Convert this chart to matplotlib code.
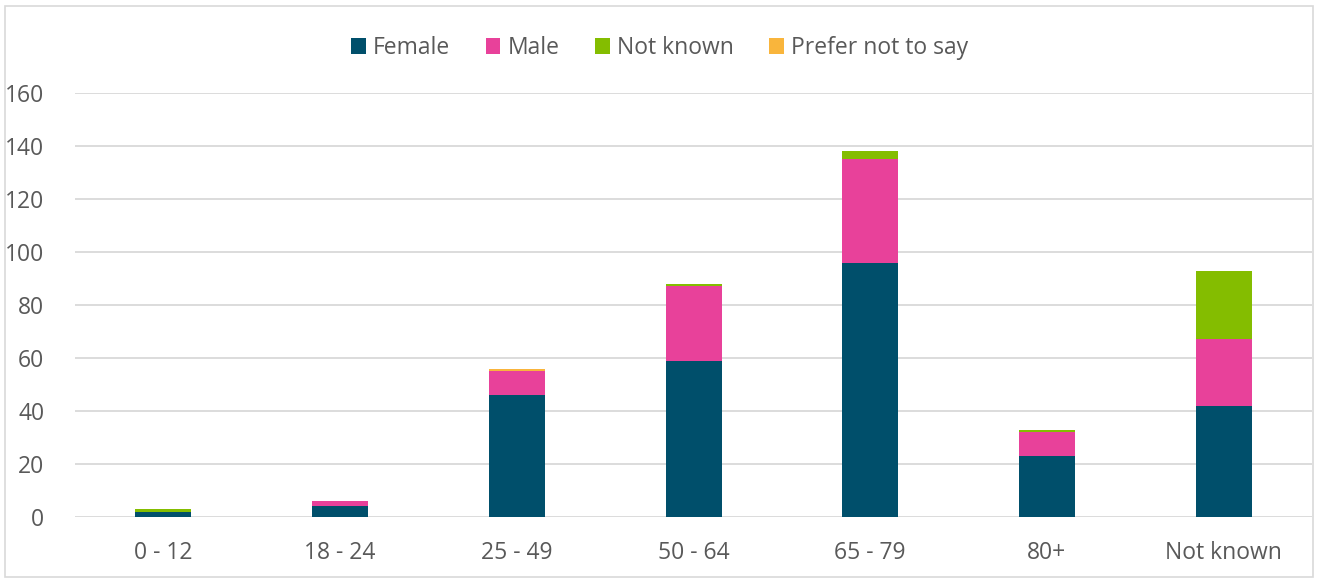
import matplotlib.pyplot as plt
import numpy as np
from matplotlib.patches import Rectangle

plt.rcParams["font.family"] = ["Open Sans", "DejaVu Sans"]

categories = ["0 - 12", "18 - 24", "25 - 49", "50 - 64", "65 - 79", "80+", "Not known"]
female = [2, 4, 46, 59, 96, 23, 42]
male = [0, 2, 9, 28, 39, 9, 25]
not_known = [1, 0, 0, 1, 3, 1, 26]
prefer_not = [0, 0, 1, 0, 0, 0, 0]
yticks = [0, 20, 40, 60, 80, 100, 120, 140, 160]

series = [
    ("Female", female, "#004F6B"),
    ("Male", male, "#E8419A"),
    ("Not known", not_known, "#84BD00"),
    ("Prefer not to say", prefer_not, "#F9B53C"),
]

fig = plt.figure(figsize=(13.19, 5.87), dpi=100)
ax = fig.add_axes([0.0569, 0.1193, 0.9378, 0.7223])

# outer chart border
fig.patches.append(Rectangle((5 / 1319, 1 - 577 / 587), 1308 / 1319, 571 / 587,
                             transform=fig.transFigure, fill=False,
                             edgecolor="#D9D9D9", linewidth=1.2))

x = np.arange(len(categories))
bottom = np.zeros(len(categories))
for name, vals, color in series:
    vals = np.array(vals, dtype=float)
    ax.bar(x, vals, 0.317, bottom=bottom, color=color, label=name, zorder=3)
    bottom += vals

ax.set_xlim(-0.5, len(categories) - 0.5)
ax.set_ylim(0, 160)
ax.set_yticks(yticks)
ax.set_xticks(x)
ax.set_xticklabels(categories)
ax.yaxis.grid(True, color="#D9D9D9", linewidth=1.3, zorder=0)
for s in ax.spines.values():
    s.set_visible(False)
ax.tick_params(axis="both", length=0, labelsize=16.5, labelcolor="#595959")
ax.tick_params(axis="y", pad=22)
ax.tick_params(axis="x", pad=17)

fig.legend(loc="center", bbox_to_anchor=(0.5, 1 - 48 / 587), ncol=4, frameon=False,
           fontsize=16.5, labelcolor="#595959", handlelength=0.65, handleheight=0.65,
           handletextpad=0.3, columnspacing=1.55)

fig.savefig("out.png", dpi=100)
